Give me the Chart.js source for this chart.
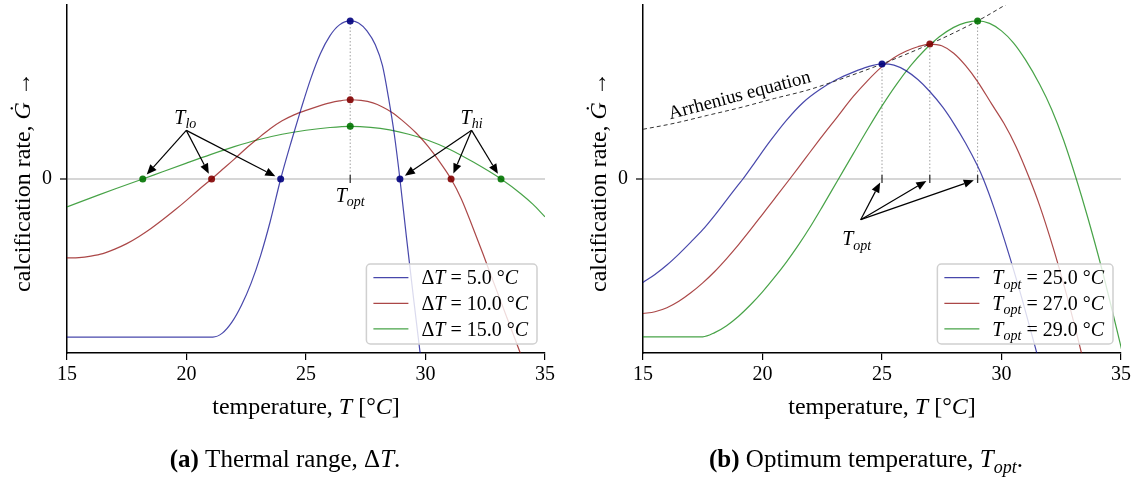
<!DOCTYPE html>
<html>
<head>
<meta charset="utf-8">
<script src="https://cdn.jsdelivr.net/npm/chart.js@4.4.1/dist/chart.umd.min.js"></script>
<style>
  body { margin: 0; background: #fff; }
  .wrap { display: flex; width: 1140px; height: 477px; }
</style>
</head>
<body>
<div class="wrap">
  <canvas id="rangeCanvas" width="570" height="477"></canvas>
  <canvas id="optCanvas" width="570" height="477"></canvas>
</div>
<script>
// ---- data (G in arbitrary units, 0 = no calcification) ----
const tempTicks = [15, 20, 25, 30, 35];
const zeroTick = [0];

// (a) thermal range
const rangeWidths = [5.0, 10.0, 15.0];
const rangeTopt = 26.85;
const rangeLo = [23.94, 21.05, 18.17];
const rangeHi = [28.93, 31.07, 33.16];
const rangePeak = [1.59, 0.797, 0.53];

const narrowT = [15, 18, 21.1, 21.5, 21.9, 22.3, 22.7, 23.1, 23.5, 23.94, 24.4, 24.8, 25.2, 25.6, 26, 26.4, 26.85, 27.2, 27.55, 27.9, 28.2, 28.45, 28.7, 28.93, 29.2, 29.5, 29.8, 30];
const narrowG = [-1.59, -1.59, -1.59, -1.55, -1.44, -1.27, -1.05, -0.77, -0.43, 0, 0.39, 0.71, 1.01, 1.26, 1.44, 1.55, 1.59, 1.57, 1.49, 1.35, 1.14, 0.82, 0.44, 0, -0.58, -1.2, -1.8, -2.2];

const mediumT = [15, 15.5, 16, 16.5, 17, 17.5, 18, 18.5, 19, 19.5, 20, 20.5, 21.05, 21.5, 22, 22.5, 23, 23.5, 24, 24.5, 25, 25.5, 26, 26.4, 26.85, 27.3, 27.8, 28.2, 28.6, 29, 29.6, 30.1, 30.6, 31.07, 31.5, 32, 32.4, 32.85, 33.4, 33.95, 34.3];
const mediumG = [-0.793, -0.79, -0.775, -0.75, -0.705, -0.65, -0.58, -0.5, -0.41, -0.315, -0.215, -0.11, 0, 0.095, 0.2, 0.31, 0.41, 0.505, 0.585, 0.645, 0.69, 0.73, 0.765, 0.785, 0.797, 0.79, 0.765, 0.725, 0.67, 0.595, 0.465, 0.33, 0.17, 0, -0.2, -0.5, -0.75, -1.04, -1.39, -1.74, -1.97];

const wideT = [15, 16, 17, 18.17, 19, 20, 21, 22, 23, 24, 25, 26, 26.85, 27.7, 28.5, 29.3, 30.1, 31, 32, 33.16, 34, 34.5, 35];
const wideG = [-0.28, -0.19, -0.1, 0, 0.073, 0.16, 0.245, 0.325, 0.395, 0.45, 0.49, 0.518, 0.53, 0.52, 0.494, 0.45, 0.39, 0.3, 0.17, 0, -0.15, -0.255, -0.38];

// (b) optimum temperature
const optTemps = [25.0, 27.0, 29.0];
const optPeak = [1.157, 1.357, 1.59];

const opt25T = [15, 15.5, 16, 16.5, 17, 17.5, 18, 18.5, 19, 19.18, 19.6, 20.3, 21, 21.7, 22.4, 23.1, 23.8, 24.4, 25, 25.5, 26, 26.5, 27, 27.55, 28, 28.5, 29, 29.24, 29.7, 30.34, 30.9, 31.4, 31.8];
const opt25G = [-1.04, -0.96, -0.865, -0.755, -0.635, -0.51, -0.365, -0.21, -0.055, 0, 0.14, 0.375, 0.59, 0.77, 0.9, 1.0, 1.075, 1.128, 1.157, 1.145, 1.09, 1.0, 0.88, 0.72, 0.56, 0.36, 0.13, 0, -0.3, -0.78, -1.24, -1.68, -2.05];

const opt27T = [15, 15.5, 16, 16.5, 17, 17.5, 18, 18.5, 19, 19.5, 20, 20.5, 21.14, 21.8, 22.4, 23.1, 23.8, 24.4, 25, 25.5, 26, 26.5, 27, 27.5, 28, 28.5, 29, 29.6, 30.1, 30.6, 31.18, 31.6, 32.16, 32.65, 33.13, 33.6];
const opt27G = [-1.353, -1.335, -1.295, -1.23, -1.145, -1.045, -0.93, -0.8, -0.66, -0.51, -0.355, -0.2, 0, 0.21, 0.4, 0.615, 0.83, 0.99, 1.13, 1.22, 1.285, 1.33, 1.357, 1.34, 1.265, 1.14, 0.98, 0.75, 0.56, 0.33, 0, -0.27, -0.69, -1.1, -1.54, -2.0];

const opt29T = [15, 17.5, 18, 18.5, 19, 19.5, 20, 20.5, 21, 21.5, 22, 22.5, 23.18, 23.8, 24.4, 25, 25.6, 26.2, 26.8, 27.4, 28, 28.5, 29, 29.5, 30, 30.5, 31, 31.6, 32.1, 32.6, 33.13, 33.6, 34.16, 34.65, 35.13];
const opt29G = [-1.587, -1.587, -1.545, -1.475, -1.38, -1.265, -1.135, -0.99, -0.835, -0.665, -0.48, -0.28, 0, 0.255, 0.5, 0.735, 0.95, 1.14, 1.3, 1.43, 1.525, 1.573, 1.59, 1.565, 1.49, 1.37, 1.2, 0.95, 0.7, 0.39, 0, -0.38, -0.87, -1.34, -1.82];

const arrhT = [15, 16.3, 17.7, 19.1, 20.5, 21.9, 23.1, 25, 27, 29, 30.3];
const arrhG = [0.5, 0.56, 0.64, 0.72, 0.81, 0.895, 0.99, 1.157, 1.357, 1.59, 1.77];

// ---- styling ----
const SERIF = "'Liberation Serif', 'DejaVu Serif', serif";
const lineCols = ["rgba(0,0,139,0.72)", "rgba(139,0,0,0.72)", "rgba(0,128,0,0.72)"];
const dotCols = ["rgba(0,0,125,0.9)", "rgba(130,0,0,0.9)", "rgba(0,115,0,0.9)"];

function pts(xs, ys) { return xs.map((x, i) => ({x: x, y: ys[i]})); }

function curve(label, xs, ys, color) {
    return {type: "line", label: label, data: pts(xs, ys), borderColor: color, borderWidth: 1.2,
            pointRadius: 0, cubicInterpolationMode: "monotone", fill: false, order: 2};
}

function dots(xs, ys, color) {
    return {type: "scatter", data: pts(xs, ys), pointRadius: 3.5, pointHoverRadius: 3.5,
            backgroundColor: color, borderWidth: 0, order: 1};
}

// text with mixed roman / italic / bold / subscript parts
function fontFor(style, size) {
    if (style === "b") return "bold " + size + "px " + SERIF;
    if (style === "r") return size + "px " + SERIF;
    if (style === "s") return "italic " + Math.round(size * 0.72) + "px " + SERIF;
    return "italic " + size + "px " + SERIF;
}
function richWidth(ctx, parts, size) {
    let w = 0;
    parts.forEach(p => { ctx.font = fontFor(p[1], size); w += ctx.measureText(p[0]).width; });
    return w;
}
function rich(ctx, parts, x, y, size, align) {
    const w = richWidth(ctx, parts, size);
    let cx = align === "center" ? x - w / 2 : (align === "right" ? x - w : x);
    ctx.textAlign = "left";
    ctx.textBaseline = "alphabetic";
    ctx.fillStyle = "#000";
    parts.forEach(p => {
        ctx.font = fontFor(p[1], size);
        ctx.fillText(p[0], cx, y + size * 0.33 + (p[1] === "s" ? size * 0.22 : 0));
        cx += ctx.measureText(p[0]).width;
    });
}

function arrow(ctx, x0, y0, x1, y1, shrink) {
    const dx = x1 - x0, dy = y1 - y0, len = Math.hypot(dx, dy);
    const ux = dx / len, uy = dy / len;
    const tx = x1 - ux * shrink, ty = y1 - uy * shrink;
    const bx = tx - ux * 10, by = ty - uy * 10;
    ctx.beginPath(); ctx.moveTo(x0, y0); ctx.lineTo(bx, by); ctx.stroke();
    ctx.beginPath(); ctx.moveTo(tx, ty);
    ctx.lineTo(bx - uy * 4.2, by + ux * 4.2); ctx.lineTo(bx + uy * 4.2, by - ux * 4.2);
    ctx.closePath(); ctx.fill();
}

function legendBox(chart, rows) {
    const {ctx, chartArea: a} = chart;
    const size = 20, rowH = 25.6;
    let tw = 0;
    rows.forEach(r => { tw = Math.max(tw, richWidth(ctx, r, size)); });
    const w = 55 + tw + 9, h = 80;
    const right = a.right - 8, bottom = a.bottom - 9;
    const left = right - w, top = bottom - h;
    ctx.save();
    ctx.beginPath(); ctx.roundRect(left, top, w, h, 4);
    ctx.fillStyle = "rgba(255,255,255,0.8)"; ctx.fill();
    ctx.strokeStyle = "#d0d0d0"; ctx.lineWidth = 1.5; ctx.stroke();
    rows.forEach((r, i) => {
        const cy = top + 13.7 + i * rowH;
        ctx.strokeStyle = lineCols[i]; ctx.lineWidth = 1.2;
        ctx.beginPath(); ctx.moveTo(left + 7, cy); ctx.lineTo(left + 42, cy); ctx.stroke();
        rich(ctx, r, left + 55, cy, size, "left");
    });
    ctx.restore();
}

function frameText(chart, caption, captionX) {
    const {ctx, chartArea: a} = chart;
    ctx.save();
    rich(ctx, [["temperature, ", "r"], ["T", "i"], [" [°", "r"], ["C", "i"], ["]", "r"]], (a.left + a.right) / 2, 406, 24, "center");
    ctx.translate(a.left - 45, 182);
    ctx.rotate(-Math.PI / 2);
    rich(ctx, [["calcification rate, ", "r"], ["Ġ", "i"], [" →", "r"]], 0, 0, 24, "center");
    ctx.restore();
    ctx.save();
    rich(ctx, caption, captionX, 459, 25, "center");
    ctx.restore();
}

function scalesFor(leftW) {
    return {
        x: {
            type: "linear", min: 15, max: 35,
            afterBuildTicks: s => { s.ticks = tempTicks.map(v => ({value: v})); },
            ticks: {color: "#000", font: {family: SERIF, size: 20}, padding: 3},
            grid: {drawOnChartArea: false, color: "#000", tickLength: 7, lineWidth: 1.2},
            border: {color: "#000", width: 1.5},
            afterFit: s => { s.height = 124; }
        },
        y: {
            type: "linear", min: -1.75, max: 1.75,
            afterBuildTicks: s => { s.ticks = zeroTick.map(v => ({value: v})); },
            ticks: {color: "#000", font: {family: SERIF, size: 20}, padding: 8, callback: v => String(v)},
            grid: {color: "#d6d6d6", lineWidth: 2, tickColor: "#000", tickLength: 7, tickWidth: 1.2},
            border: {color: "#000", width: 1.5},
            afterFit: s => { s.width = leftW; s.paddingTop = 0; s.paddingBottom = 0; }
        }
    };
}

const baseOptions = (leftW, rightPad) => ({
    responsive: false,
    animation: false,
    events: [],
    layout: {padding: {left: 0, right: rightPad, top: 5, bottom: 0}},
    plugins: {legend: {display: false}, tooltip: {enabled: false}},
    scales: scalesFor(leftW)
});

// ---- (a) thermal range ----
const rangeNotes = {
    id: "rangeNotes",
    beforeDatasetsDraw(chart) {
        const {ctx, scales: {x, y}} = chart;
        ctx.save();
        ctx.strokeStyle = "#a0a0a0"; ctx.lineWidth = 1; ctx.setLineDash([1.5, 2]);
        const px = x.getPixelForValue(rangeTopt);
        ctx.beginPath(); ctx.moveTo(px, y.getPixelForValue(0)); ctx.lineTo(px, y.getPixelForValue(Math.max(...rangePeak))); ctx.stroke();
        ctx.restore();
    },
    afterDatasetsDraw(chart) {
        const {ctx, scales: {x, y}} = chart;
        const y0 = y.getPixelForValue(0);
        ctx.save();
        ctx.strokeStyle = "#333"; ctx.lineWidth = 1.3;
        const tx = x.getPixelForValue(rangeTopt);
        ctx.beginPath(); ctx.moveTo(tx, y0 - 4); ctx.lineTo(tx, y0 + 4); ctx.stroke();
        rich(ctx, [["T", "i"], ["opt", "s"]], tx, y0 + 16, 20, "center");

        const lo = {x: x.getPixelForValue(19.95), y: y.getPixelForValue(0.62)};
        const hi = {x: x.getPixelForValue(31.93), y: y.getPixelForValue(0.62)};
        rich(ctx, [["T", "i"], ["lo", "s"]], lo.x, lo.y, 20, "center");
        rich(ctx, [["T", "i"], ["hi", "s"]], hi.x, hi.y, 20, "center");
        ctx.strokeStyle = "#000"; ctx.fillStyle = "#000"; ctx.lineWidth = 1.2;
        rangeLo.forEach(t => arrow(ctx, lo.x + 1, lo.y + 13, x.getPixelForValue(t), y0, 6));
        rangeHi.forEach(t => arrow(ctx, hi.x, hi.y + 13, x.getPixelForValue(t), y0, 6));
        ctx.restore();

        legendBox(chart, rangeWidths.map(d => [["Δ", "r"], ["T", "i"], [" = " + d.toFixed(1) + " °", "r"], ["C", "i"]]));
    },
    afterDraw(chart) {
        frameText(chart, [["(a)", "b"], [" Thermal range, Δ", "r"], ["T", "i"], [".", "r"]], 285);
    }
};

new Chart(document.getElementById("rangeCanvas"), {
    data: {
        datasets: [
            curve("ΔT = 5.0", narrowT, narrowG, lineCols[0]),
            curve("ΔT = 10.0", mediumT, mediumG, lineCols[1]),
            curve("ΔT = 15.0", wideT, wideG, lineCols[2]),
            dots([rangeLo[0], rangeHi[0], rangeTopt], [0, 0, rangePeak[0]], dotCols[0]),
            dots([rangeLo[1], rangeHi[1], rangeTopt], [0, 0, rangePeak[1]], dotCols[1]),
            dots([rangeLo[2], rangeHi[2], rangeTopt], [0, 0, rangePeak[2]], dotCols[2])
        ]
    },
    options: baseOptions(67, 25),
    plugins: [rangeNotes]
});

// ---- (b) optimum temperature ----
const optNotes = {
    id: "optNotes",
    beforeDatasetsDraw(chart) {
        const {ctx, scales: {x, y}} = chart;
        ctx.save();
        ctx.strokeStyle = "#a0a0a0"; ctx.lineWidth = 1; ctx.setLineDash([1.5, 2]);
        optTemps.forEach((t, i) => {
            const px = x.getPixelForValue(t);
            ctx.beginPath(); ctx.moveTo(px, y.getPixelForValue(0)); ctx.lineTo(px, y.getPixelForValue(optPeak[i])); ctx.stroke();
        });
        ctx.restore();
    },
    afterDatasetsDraw(chart) {
        const {ctx, scales: {x, y}} = chart;
        const y0 = y.getPixelForValue(0);
        ctx.save();
        ctx.strokeStyle = "#333"; ctx.lineWidth = 1.3;
        optTemps.forEach(t => {
            const px = x.getPixelForValue(t);
            ctx.beginPath(); ctx.moveTo(px, y0 - 4); ctx.lineTo(px, y0 + 4); ctx.stroke();
        });
        const note = {x: x.getPixelForValue(23.94), y: y.getPixelForValue(-0.6)};
        rich(ctx, [["T", "i"], ["opt", "s"]], note.x, note.y, 20, "center");
        ctx.strokeStyle = "#000"; ctx.fillStyle = "#000"; ctx.lineWidth = 1.2;
        optTemps.forEach(t => arrow(ctx, note.x + 4, note.y - 19, x.getPixelForValue(t), y0, 4));

        // label along the Arrhenius curve
        ctx.translate(x.getPixelForValue(19.03), y.getPixelForValue(0.85));
        ctx.rotate(-14.8 * Math.PI / 180);
        rich(ctx, [["Arrhenius equation", "r"]], 0, 0, 19, "center");
        ctx.restore();

        legendBox(chart, optTemps.map(t => [["T", "i"], ["opt", "s"], [" = " + t.toFixed(1) + " °", "r"], ["C", "i"]]));
    },
    afterDraw(chart) {
        frameText(chart, [["(b)", "b"], [" Optimum temperature, ", "r"], ["T", "i"], ["opt", "s"], [".", "r"]], 296);
    }
};

const arrhSet = curve("Arrhenius", arrhT, arrhG, "#333");
arrhSet.borderDash = [4, 3];
arrhSet.borderWidth = 1;

new Chart(document.getElementById("optCanvas"), {
    data: {
        datasets: [
            arrhSet,
            curve("Topt = 25.0", opt25T, opt25G, lineCols[0]),
            curve("Topt = 27.0", opt27T, opt27G, lineCols[1]),
            curve("Topt = 29.0", opt29T, opt29G, lineCols[2]),
            dots([optTemps[0]], [optPeak[0]], dotCols[0]),
            dots([optTemps[1]], [optPeak[1]], dotCols[1]),
            dots([optTemps[2]], [optPeak[2]], dotCols[2])
        ]
    },
    options: baseOptions(73, 19),
    plugins: [optNotes]
});
</script>
</body>
</html>
